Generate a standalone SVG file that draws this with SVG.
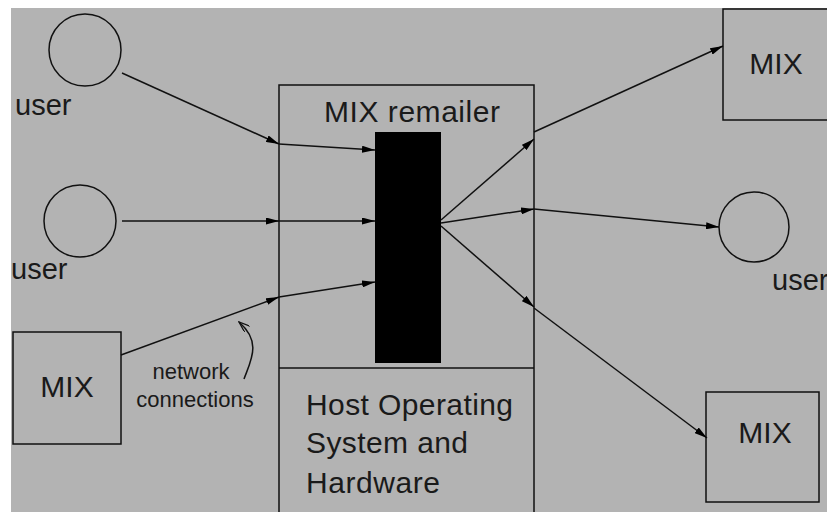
<svg xmlns="http://www.w3.org/2000/svg" width="827" height="512" viewBox="0 0 827 512">
  <style>
    .ln { stroke: #111; stroke-width: 1.5; fill: none; }
    .node { stroke: #111; stroke-width: 1.5; fill: none; }
    .lbl { font-family: "Liberation Sans", Arial, sans-serif; fill: #1a1a1a; }
    .big { font-size: 30px; }
    .usr { font-size: 29px; }
    .small { font-size: 22px; }
  </style>
  <defs>
    <marker id="arr" viewBox="0 0 13 7" refX="13" refY="3.5" markerWidth="13" markerHeight="7" orient="auto" markerUnits="userSpaceOnUse">
      <path d="M0,0 L13,3.5 L0,7 z" fill="#000"/>
    </marker>
    <marker id="open" viewBox="0 0 12 8" refX="11" refY="4" markerWidth="12" markerHeight="8" orient="auto" markerUnits="userSpaceOnUse">
      <path d="M0,0 L11,4 L0,8" fill="none" stroke="#111" stroke-width="1.3"/>
    </marker>
  </defs>

  <!-- page background -->
  <rect x="0" y="0" width="827" height="512" fill="#fff"/>
  <rect x="11" y="8" width="816" height="504" fill="#b3b3b3"/>

  <!-- remailer host -->
  <g id="host">
    <rect class="node" x="279" y="85" width="255" height="440"/>
    <line class="ln" x1="279" y1="368" x2="534" y2="368"/>
    <text class="lbl big" x="324" y="122" textLength="176" lengthAdjust="spacing">MIX remailer</text>
    <rect x="375" y="132" width="66" height="231" fill="#000"/>
    <text class="lbl big" x="306" y="415" textLength="207" lengthAdjust="spacing">Host Operating</text>
    <text class="lbl big" x="306" y="453" textLength="162" lengthAdjust="spacing">System and</text>
    <text class="lbl big" x="306" y="493" textLength="134" lengthAdjust="spacing">Hardware</text>
  </g>

  <!-- senders -->
  <g id="user-top">
    <circle class="node" cx="85" cy="50" r="36"/>
    <text class="lbl usr" x="15" y="115">user</text>
  </g>
  <g id="user-mid">
    <circle class="node" cx="80" cy="221" r="36"/>
    <text class="lbl usr" x="11" y="279">user</text>
  </g>
  <g id="mix-left">
    <rect class="node" x="13" y="332" width="108" height="112"/>
    <text class="lbl big" x="67" y="397" text-anchor="middle">MIX</text>
  </g>

  <!-- receivers -->
  <g id="mix-top-right">
    <rect class="node" x="723" y="9" width="120" height="111"/>
    <text class="lbl big" x="776" y="74" text-anchor="middle">MIX</text>
  </g>
  <g id="user-right">
    <circle class="node" cx="754" cy="227" r="35"/>
    <text class="lbl usr" x="772" y="290">user</text>
  </g>
  <g id="mix-bottom-right">
    <rect class="node" x="706" y="392" width="113" height="110"/>
    <text class="lbl big" x="765" y="443" text-anchor="middle">MIX</text>
  </g>

  <!-- network connections -->
  <g id="connectors">
    <line class="ln" x1="122" y1="73" x2="279" y2="144" marker-end="url(#arr)"/>
    <line class="ln" x1="279" y1="144" x2="375" y2="150" marker-end="url(#arr)"/>

    <line class="ln" x1="122" y1="221" x2="279" y2="221" marker-end="url(#arr)"/>
    <line class="ln" x1="279" y1="221" x2="375" y2="221" marker-end="url(#arr)"/>

    <line class="ln" x1="121" y1="355" x2="279" y2="297" marker-end="url(#arr)"/>
    <line class="ln" x1="279" y1="297" x2="375" y2="282" marker-end="url(#arr)"/>

    <line class="ln" x1="441" y1="220" x2="534" y2="139" marker-end="url(#arr)"/>
    <line class="ln" x1="534" y1="132" x2="723" y2="46" marker-end="url(#arr)"/>

    <line class="ln" x1="441" y1="223" x2="534" y2="209" marker-end="url(#arr)"/>
    <line class="ln" x1="534" y1="209" x2="719" y2="227" marker-end="url(#arr)"/>

    <line class="ln" x1="441" y1="226" x2="534" y2="307" marker-end="url(#arr)"/>
    <line class="ln" x1="534" y1="308" x2="707" y2="438" marker-end="url(#arr)"/>

    <path class="ln" d="M244,379 C251,360 262,342 239,322" marker-end="url(#open)"/>
  </g>
  <g id="note">
    <text class="lbl small" x="191" y="379" text-anchor="middle">network</text>
    <text class="lbl small" x="195" y="407" text-anchor="middle">connections</text>
  </g>
</svg>
